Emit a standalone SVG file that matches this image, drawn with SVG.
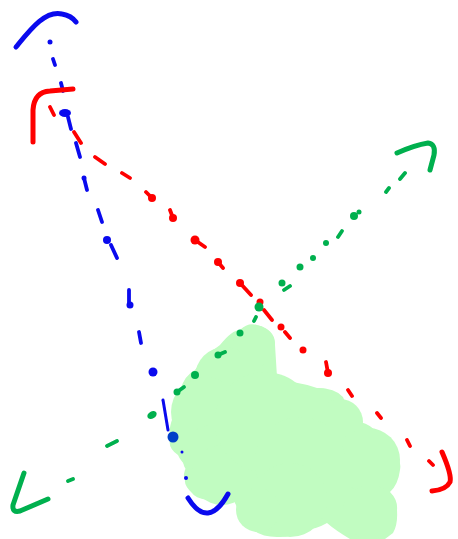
<svg xmlns="http://www.w3.org/2000/svg" width="458" height="539" viewBox="0 0 458 539">
<style>
.b{stroke:#0a0aee;fill:none;stroke-linecap:round;stroke-linejoin:round}
.r{stroke:#fe0000;fill:none;stroke-linecap:round;stroke-linejoin:round}
.g{stroke:#00b04e;fill:none;stroke-linecap:round;stroke-linejoin:round}
.bf{fill:#0a0aee}.rf{fill:#fe0000}.gf{fill:#00b04e}
.cap{stroke-width:5}
.d{stroke-width:3.8}
.blob{fill:#c1fcc1}
</style>
<g id="blob" class="blob">
<path d="M257,325 Q276,330 275,345 L277,377 Q285,378 293,382 Q305,384 317,388 Q335,388 343,397 Q348,408 347,420 Q355,420 360,422 Q372,425 377,433 Q390,440 393,450 Q402,460 400,470 Q398,485 390,492 Q398,500 397,510 Q398,525 393,533 L385,539 L350,539 Q335,530 327,523 Q315,530 303,530 Q290,538 277,537 Q262,537 253,530 Q242,522 240,513 Q235,503 230,493 Q218,502 207,500 Q195,498 192,493 Q184,485 185,480 Q182,472 187,467 Q180,460 178,455 Q168,448 170,440 Q168,430 173,417 Q173,400 180,390 Q185,375 195,370 Q205,355 220,345 Q232,330 240,330 Q248,322 257,325 Z"/>
<circle cx="254" cy="346" r="21"/>
<circle cx="225" cy="377" r="30"/>
<circle cx="206" cy="412" r="35"/>
<circle cx="212" cy="455" r="30"/>
<circle cx="222" cy="475" r="30"/>
<circle cx="265" cy="422" r="50"/>
<circle cx="318" cy="416" r="28"/>
<circle cx="340" cy="422" r="23"/>
<circle cx="368" cy="460" r="32"/>
<circle cx="300" cy="462" r="45"/>
<circle cx="290" cy="500" r="37"/>
<circle cx="258" cy="510" r="22"/>
<circle cx="370" cy="512" r="27"/>
</g>
<g id="connectors">
<g id="blue-line">
<path class="b cap" d="M16,47 C30,30 45,10 62,14 C68,15 73,18 76,22"/>
<circle class="bf" cx="50" cy="42" r="2.5"/>
<path class="b d" d="M53,59 L55,65 M61,83 L63,91 M68,117 L71,129 M76,143 L80,157 M84,178 L87,190 M98,210 L102,222 M111,245 L117,258 M129,290 L129,305 M139,332 L141,343"/>
<ellipse class="bf" cx="65" cy="113" rx="6" ry="4"/>
<circle class="bf" cx="84" cy="178" r="2.5"/>
<circle class="bf" cx="107" cy="240" r="4"/>
<circle class="bf" cx="130" cy="305" r="3.5"/>
<circle class="bf" cx="153" cy="372" r="4.5"/>
<path class="b" stroke-width="3" d="M163,400 L168,430"/>
<circle cx="173" cy="437" r="5.5" fill="#0040c8"/>
<circle class="bf" cx="182" cy="452" r="1.5"/>
<circle class="bf" cx="186" cy="478" r="2"/>
<path class="b cap" d="M188,498 Q208,530 228,494"/>
</g>
<g id="red-line">
<path class="r cap" d="M33,142 L33,110 Q34,92 50,91 L73,89"/>
<path class="r d" d="M50,107 L54,115 M74,132 L81,143 M95,157 L105,164 M122,173 L130,178 M146,192 L152,198 M170,210 L173,218 M195,240 L205,247 M218,262 L223,268 M240,283 L251,295 M264,310 L272,320 M285,332 L290,338 M326,362 L328,373 M348,390 L352,396 M377,413 L381,418 M407,440 L410,446 M429,461 L433,465"/>
<circle class="rf" cx="152" cy="198" r="4"/>
<circle class="rf" cx="173" cy="218" r="4"/>
<circle class="rf" cx="195" cy="240" r="4.5"/>
<circle class="rf" cx="218" cy="262" r="4"/>
<circle class="rf" cx="240" cy="283" r="4"/>
<circle class="rf" cx="260" cy="302" r="3.5"/>
<circle class="rf" cx="281" cy="327" r="3.5"/>
<circle class="rf" cx="303" cy="350" r="3.5"/>
<circle class="rf" cx="328" cy="373" r="4"/>
<path class="r cap" d="M442,452 Q452,475 450,482 Q446,490 432,491"/>
</g>
<g id="green-line">
<path class="g cap" d="M397,153 Q415,145 428,143 Q436,144 434,155 L430,170"/>
<path class="g d" d="M405,173 L400,179 M389,188 L386,192 M342,231 L338,237 M284,290 L290,286 M254,321 L256,317 M218,355 L225,352 M177,392 L184,387 M107,446 L117,441 M68,481 L73,479"/>
<circle class="gf" cx="354" cy="216" r="4"/>
<circle class="gf" cx="359" cy="212" r="2.5"/>
<circle class="gf" cx="326" cy="243" r="3"/>
<circle class="gf" cx="313" cy="258" r="3"/>
<circle class="gf" cx="300" cy="267" r="3.5"/>
<circle class="gf" cx="282" cy="283" r="3.5"/>
<circle class="gf" cx="259" cy="307" r="4.5"/>
<circle class="gf" cx="240" cy="333" r="3.5"/>
<circle class="gf" cx="218" cy="355" r="3.5"/>
<circle class="gf" cx="195" cy="375" r="4"/>
<circle class="gf" cx="177" cy="392" r="3.5"/>
<ellipse class="gf" cx="152" cy="415" rx="5" ry="3.5" transform="rotate(-30 152 415)"/>
<path class="g cap" d="M24,473 L13,505 Q12,513 20,511 L48,499"/>
</g>
</g>
</svg>
